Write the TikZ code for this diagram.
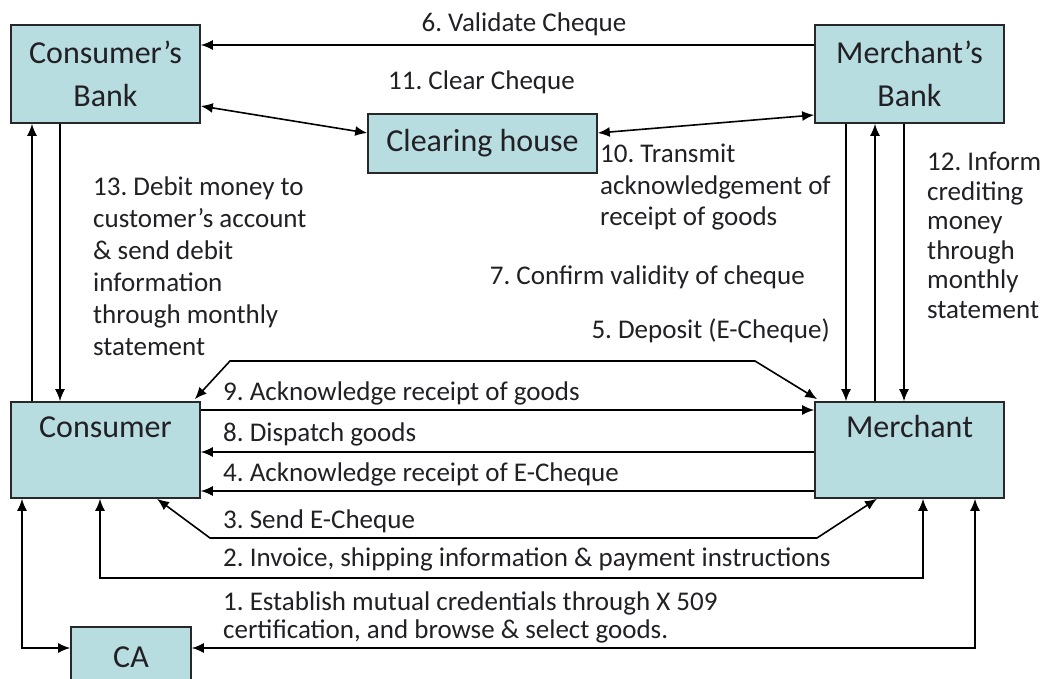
\documentclass[tikz,border=0pt]{standalone}
\usepackage{fontspec}
\setmainfont{Carlito}
\usetikzlibrary{arrows.meta}

\definecolor{boxfill}{RGB}{183,221,225}
\definecolor{boxline}{RGB}{40,40,40}
\definecolor{ink}{RGB}{34,32,36}

% several left-aligned lines whose first baseline sits on the node's base
\newcommand{\txtlines}[1]{\begin{tabular}[t]{@{}l@{}}#1\end{tabular}}

\tikzset{
  box/.style={draw=boxline, line width=1.6pt, fill=boxfill, text=ink,
              inner sep=0pt, align=center, font=\fontsize{32}{43}\selectfont},
  boxtext/.style={inner sep=0pt, text=ink, font=\fontsize{32}{43}\selectfont},
  lbl/.style={inner sep=0pt, text=ink, font=\fontsize{27}{31.5}\selectfont\frenchspacing},
  conn/.style={line width=1.6pt, draw=black},
  >={Latex[length=12pt,width=10pt]}
}

\begin{document}
\frenchspacing
\begin{tikzpicture}[x=1pt,y=-1pt]
  \useasboundingbox (0,0) rectangle (1045,679);
  \fill[white] (0,0) rectangle (1045,679);
  \clip (0,0) rectangle (1045,679);

  % parties
  \node[box, minimum width=189pt, minimum height=98pt] (cb) at (105.5,74) {Consumer’s\\Bank};
  \node[box, minimum width=189pt, minimum height=98pt] (mb) at (909.5,74) {Merchant’s\\Bank};
  \node[box, minimum width=229pt, minimum height=59pt] (ch) at (482.5,143.5) {Clearing house};
  \node[box, minimum width=189pt, minimum height=96pt] (co) at (105.5,450) {};
  \node[boxtext, anchor=base] (cotxt) at ([yshift=-36pt]co.north) {Consumer};
  \node[box, minimum width=189pt, minimum height=96pt] (me) at (909.5,450) {};
  \node[boxtext, anchor=base] (metxt) at ([yshift=-36pt]me.north) {Merchant};
  \node[box, minimum width=120pt, minimum height=60pt] (ca) at (131,657) {CA};

  % bank side
  \draw[conn,->] (mb.west |- 0,45) -- (cb.east |- 0,45);
  \draw[conn,<->] (cb.east |- 0,106) -- (ch.west |- 0,133);
  \draw[conn,<->] (ch.east |- 0,133) -- (mb.west |- 0,115);
  \draw[conn,->] (co.north -| 32,0) -- (cb.south -| 32,0);
  \draw[conn,->] (cb.south -| 60,0) -- (co.north -| 60,0);
  \draw[conn,->] (mb.south -| 846,0) -- (me.north -| 846,0);
  \draw[conn,->] (me.north -| 875,0) -- (mb.south -| 875,0);
  \draw[conn,->] (mb.south -| 904,0) -- (me.north -| 904,0);

  % consumer - merchant exchange
  \draw[conn,<->] ([xshift=-6pt,yshift=2pt]co.north east) -- (230,361) -- (755,361)
                  -- ([xshift=3pt,yshift=2pt]me.north west);
  \draw[conn,->] (co.east |- 0,410) -- (me.west |- 0,410);
  \draw[conn,->] (me.west |- 0,452) -- (co.east |- 0,452);
  \draw[conn,->] (me.west |- 0,491) -- (co.east |- 0,491);
  \draw[conn,<->] (me.south -| 877,0) -- (817,538) -- (210,538) -- (co.south -| 157,0);
  \draw[conn,<->] (co.south -| 100,0) -- (100,578) -- (923,578) -- (me.south -| 923,0);
  \draw[conn,<->] (ca.east |- 0,648) -- (975,648) -- (me.south -| 975,0);
  \draw[conn,<->] (co.south -| 22,0) -- (22,648) -- (ca.west |- 0,648);

  % step labels
  \node[lbl, anchor=base] (l6) at (524,32) {6. Validate Cheque};
  \node[lbl, anchor=base west] (l11) at (388,90) {11. Clear Cheque};
  \node[lbl, anchor=base west] (l10) at (600,163) {\txtlines{10. Transmit\\acknowledgement of\\receipt of goods}};
  \node[lbl, anchor=base east] (l7) at (805,285) {7. Confirm validity of cheque};
  \node[lbl, anchor=base east] (l5) at (830,338) {5. Deposit (E-Cheque)};
  \node[lbl, anchor=base west, font=\fontsize{27}{29.5}\selectfont] (l12) at (927,171)
       {\txtlines{12. Inform\\crediting\\money\\through\\monthly\\statement}};
  \node[lbl, anchor=base west, font=\fontsize{27}{32}\selectfont] (l13) at (93,196)
       {\txtlines{13. Debit money to\\customer’s account\\\& send debit\\information\\through monthly\\statement}};
  \node[lbl, anchor=base west] (l9) at (223,400) {9. Acknowledge receipt of goods};
  \node[lbl, anchor=base west] (l8) at (223,441) {8. Dispatch goods};
  \node[lbl, anchor=base west] (l4) at (223,481) {4. Acknowledge receipt of E-Cheque};
  \node[lbl, anchor=base west] (l3) at (223,528) {3. Send E-Cheque};
  \node[lbl, anchor=base west] (l2) at (223,566) {2. Invoice, shipping information \& payment instructions};
  \node[lbl, anchor=base west, font=\fontsize{27}{28}\selectfont] (l1) at (223,610)
       {\txtlines{1. Establish mutual credentials through X 509\\certification, and browse \& select goods.}};
\end{tikzpicture}
\end{document}
